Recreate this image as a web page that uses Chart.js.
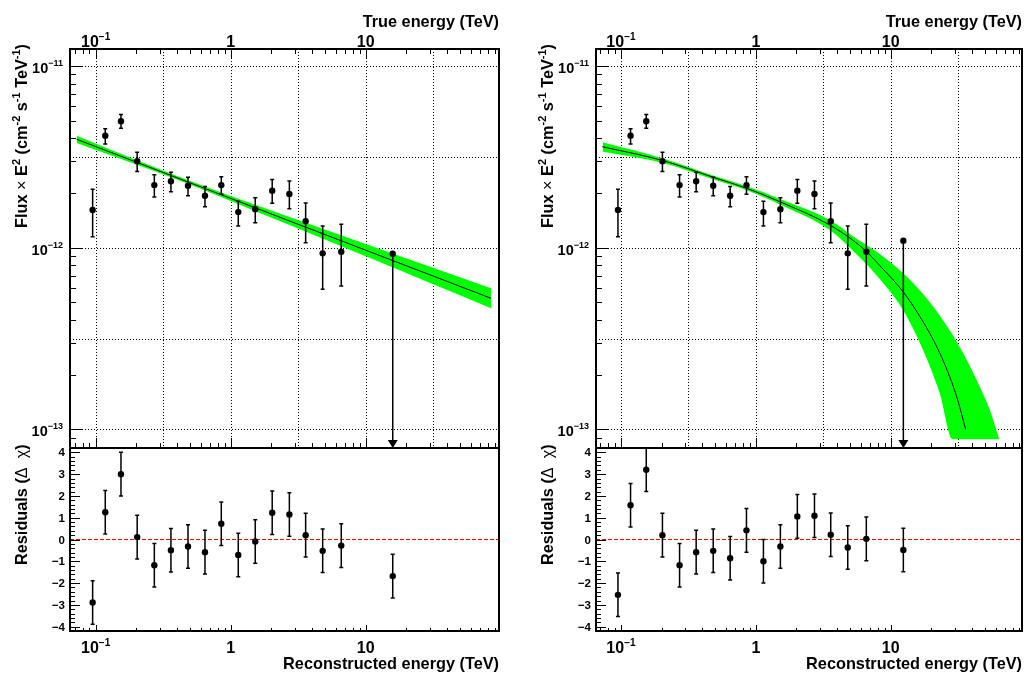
<!DOCTYPE html>
<html>
<head>
<meta charset="utf-8">
<title>Spectrum fits with residuals</title>
<script src="https://cdn.jsdelivr.net/npm/chart.js@4.4.1/dist/chart.umd.min.js"></script>
<style>
  html, body { margin: 0; padding: 0; background: #fff; }
  #wrap { position: relative; width: 1027px; height: 673px; overflow: hidden; background: #fff; }
  canvas { position: absolute; }
</style>
</head>
<body>
<div id="wrap">
  <canvas id="plTop" width="513" height="460" style="left:0;top:0"></canvas>
  <canvas id="plRes" width="513" height="233" style="left:0;top:440px"></canvas>
  <canvas id="ecTop" width="514" height="460" style="left:513px;top:0"></canvas>
  <canvas id="ecRes" width="514" height="233" style="left:513px;top:440px"></canvas>
</div>
<script>
// flux points (same bins in both fits)
const binEnergy = [0.0950, 0.1178, 0.1540, 0.2030, 0.2720, 0.3610, 0.4830, 0.6450, 0.8520, 1.138, 1.520, 2.030, 2.720, 3.590, 4.800, 6.590];
const binFlux   = [1.612e-12, 4.13e-12, 4.96e-12, 2.99e-12, 2.21e-12, 2.32e-12, 2.19e-12, 1.93e-12, 2.21e-12, 1.57e-12, 1.63e-12, 2.06e-12, 1.975e-12, 1.40e-12, 9.31e-13, 9.50e-13];
const binFluxHi = [2.10e-12, 4.52e-12, 5.40e-12, 3.35e-12, 2.52e-12, 2.60e-12, 2.44e-12, 2.17e-12, 2.46e-12, 1.80e-12, 1.88e-12, 2.37e-12, 2.33e-12, 1.76e-12, 1.316e-12, 1.345e-12];
const binFluxLo = [1.149e-12, 3.72e-12, 4.54e-12, 2.63e-12, 1.90e-12, 2.03e-12, 1.93e-12, 1.68e-12, 1.97e-12, 1.316e-12, 1.37e-12, 1.755e-12, 1.64e-12, 1.065e-12, 5.90e-13, 6.15e-13];

// left: power law
const plUlEnergy = [15.85];
const plUlFlux = [9.27e-13];
const plModelEnergy = [0.0723, 1, 84.7];
const plModelFlux = [3.95e-12, 1.867e-12, 5.27e-13];
const plBandEnergy = [0.0723, 0.2, 0.4, 1, 3, 10, 30, 84.7];
const plBandHi = [4.135e-12, 3.038e-12, 2.480e-12, 1.926e-12, 1.438e-12, 1.048e-12, 7.85e-13, 5.98e-13];
const plBandLo = [3.773e-12, 2.873e-12, 2.369e-12, 1.809e-12, 1.295e-12, 8.96e-13, 6.39e-13, 4.64e-13];
const plResEnergy = [0.0950, 0.1178, 0.1540, 0.2030, 0.2720, 0.3610, 0.4830, 0.6450, 0.8520, 1.138, 1.520, 2.030, 2.720, 3.590, 4.800, 6.590, 15.85];
const plResidual = [-2.89, 1.25, 3.0, 0.11, -1.18, -0.49, -0.32, -0.58, 0.72, -0.71, -0.09, 1.23, 1.15, 0.2, -0.52, -0.28, -1.68];
const plResErr = [1, 1, 1, 1, 1, 1, 1, 1, 1, 1, 1, 1, 1, 1, 1, 1, 1];

// right: curved spectrum with cut-off
const ecUlEnergy = [12.4];
const ecUlFlux = [1.093e-12];
const ecModelEnergy = [0.0727, 0.2057, 0.4828, 0.8534, 1.505, 3.533, 5.412, 6.419, 8.289, 12.34, 15.50, 19.45, 23.07, 27.35, 31.36, 35.93];
const ecModelFlux = [3.596e-12, 3.012e-12, 2.440e-12, 2.123e-12, 1.791e-12, 1.333e-12, 1.079e-12, 9.71e-13, 7.98e-13, 5.726e-13, 4.483e-13, 3.38e-13, 2.633e-13, 1.95e-13, 1.451e-13, 1.0e-13];
const ecBandEnergy = [0.0732, 0.2047, 0.4803, 0.8577, 1.505, 3.533, 5.412, 8.289, 12.34, 17.35, 23.07, 28.79, 35.33, 45.63, 54.12, 63.42];
const ecBandHi = [3.802e-12, 3.097e-12, 2.496e-12, 2.177e-12, 1.854e-12, 1.420e-12, 1.139e-12, 9.232e-13, 7.24e-13, 5.561e-13, 4.24e-13, 3.304e-13, 2.531e-13, 1.722e-13, 1.285e-13, 8.93e-14];
const ecBandLo = [3.374e-12, 2.925e-12, 2.382e-12, 2.069e-12, 1.729e-12, 1.251e-12, 9.40e-13, 6.726e-13, 4.54e-13, 2.735e-13, 1.580e-13, 8.82e-14, 8.82e-14, 8.82e-14, 8.82e-14, 8.82e-14];
const ecResEnergy = [0.0950, 0.1178, 0.1540, 0.2030, 0.2720, 0.3610, 0.4830, 0.6450, 0.8520, 1.138, 1.520, 2.030, 2.720, 3.590, 4.800, 6.590, 12.4];
const ecResidual = [-2.54, 1.57, 3.2, 0.2, -1.18, -0.58, -0.52, -0.86, 0.42, -1.0, -0.32, 1.06, 1.09, 0.22, -0.37, 0.03, -0.48];
const ecResErr = [1, 1, 1, 1, 1, 1, 1, 1, 1, 1, 1, 1, 1, 1, 1, 1, 1];

// axes
const plXRange = [0.06457, 97.05];
const ecXRange = [0.06531, 93.97];
const fluxRange = [7.90e-14, 1.240e-11];
const resRange = [-4.2, 4.2];
const energyTicks = [0.1, 1, 10];
const energyTickText = [['10', '\u22121'], ['1', ''], ['10', '']];
const fluxTicks = [1e-11, 1e-12, 1e-13];
const fluxTickText = [['10', '\u221211'], ['10', '\u221212'], ['10', '\u221213']];
const resTicks = [4, 3, 2, 1, 0, -1, -2, -3, -4];
const resTickText = ['4', '3', '2', '1', '0', '\u22121', '\u22122', '\u22123', '\u22124'];
const energyGrid = [0.1, 0.3162, 1, 3.162, 10, 31.62];
const fluxGrid = [1e-11, 3.162e-12, 1e-12, 3.162e-13, 1e-13];

const FAM = '"Liberation Sans", Arial, Helvetica, sans-serif';
const B = s => `bold ${s}px ${FAM}`;
const N = s => `${s}px ${FAM}`;

const trueTitle = [['True energy (TeV)', B(16.3), 0]];
const recoTitle = [['Reconstructed energy (TeV)', B(16.3), 0]];
const fluxTitle = [['Flux ', B(16.3), 0], ['\u00d7', N(16.3), 0], [' E', B(16.3), 0], ['2', B(11), -7],
  [' (cm', B(16.3), 0], ['-2', B(11), -7], [' s', B(16.3), 0], ['-1', B(11), -7],
  [' TeV', B(16.3), 0], ['-1', B(11), -7], [')', B(16.3), 0]];
const resTitle = [['Residuals (', B(16.3), 0], ['\u0394  \u03c7', N(16.3), 0], [')', B(16.3), 0]];

const pts = (xs, ys) => xs.map((v, i) => ({ x: v, y: ys[i] }));

function richText(ctx, segs, x, y, align) {
  let w = 0;
  segs.forEach(s => { ctx.font = s[1]; w += ctx.measureText(s[0]).width; });
  let cx = align === 'right' ? x - w : align === 'center' ? x - w / 2 : x;
  ctx.textAlign = 'left';
  ctx.textBaseline = 'alphabetic';
  segs.forEach(s => {
    ctx.font = s[1];
    ctx.fillText(s[0], cx, y + s[2]);
    cx += ctx.measureText(s[0]).width;
  });
}

function logTicks(min, max) {
  const out = [];
  for (let d = Math.floor(Math.log10(min)); d <= Math.ceil(Math.log10(max)); d++) {
    for (let m = 1; m <= 9; m++) {
      const v = m * Math.pow(10, d);
      if (v >= min && v <= max) out.push([v, m === 1]);
    }
  }
  return out;
}

function linTicks(min, max) {
  const out = [];
  for (let k = Math.ceil(min / 0.2 - 1e-6); k <= Math.floor(max / 0.2 + 1e-6); k++) {
    out.push([k * 0.2, k % 5 === 0]);
  }
  return out;
}

// ROOT-like frame, ticks, grid, error bars and labels
function rootPanel(cfg) {
  return {
    id: 'rootPanel',
    beforeDatasetsDraw(chart) {
      if (!cfg.grid) return;
      const { ctx, chartArea: a, scales: { x, y } } = chart;
      ctx.save();
      ctx.strokeStyle = '#000';
      ctx.lineWidth = 1;
      ctx.setLineDash([1, 2]);
      ctx.beginPath();
      energyGrid.forEach(v => {
        const px = Math.round(x.getPixelForValue(v)) + 0.5;
        ctx.moveTo(px, a.top); ctx.lineTo(px, a.bottom);
      });
      fluxGrid.forEach(v => {
        const py = Math.round(y.getPixelForValue(v)) + 0.5;
        ctx.moveTo(a.left, py); ctx.lineTo(a.right, py);
      });
      ctx.stroke();
      ctx.restore();
    },
    beforeDatasetDraw(chart, args) {
      const bars = cfg.bars[args.index];
      if (!bars) return;
      const { ctx, chartArea: a, scales: { x, y } } = chart;
      ctx.save();
      ctx.beginPath();
      ctx.rect(a.left, a.top, a.right - a.left, a.bottom - a.top);
      ctx.clip();
      ctx.strokeStyle = '#000';
      ctx.fillStyle = '#000';
      ctx.lineWidth = 1.5;
      bars.x.forEach((e, i) => {
        const px = x.getPixelForValue(e);
        if (bars.lo) {
          const y1 = y.getPixelForValue(bars.lo[i]);
          const y2 = y.getPixelForValue(bars.hi[i]);
          ctx.beginPath();
          ctx.moveTo(px, y1); ctx.lineTo(px, y2);
          ctx.moveTo(px - 2, y1); ctx.lineTo(px + 2, y1);
          ctx.moveTo(px - 2, y2); ctx.lineTo(px + 2, y2);
          ctx.stroke();
        }
        if (bars.ul) {
          const y0 = y.getPixelForValue(bars.ul[i]);
          const yb = y.getPixelForValue(y.min);
          ctx.beginPath();
          ctx.moveTo(px, y0); ctx.lineTo(px, yb - 6);
          ctx.stroke();
          ctx.beginPath();
          ctx.moveTo(px - 5, yb - 8); ctx.lineTo(px + 5, yb - 8); ctx.lineTo(px, yb);
          ctx.closePath();
          ctx.fill();
        }
      });
      ctx.restore();
    },
    afterDraw(chart) {
      const { ctx, chartArea: a, scales: { x, y } } = chart;
      ctx.save();
      ctx.strokeStyle = '#000';
      ctx.fillStyle = '#000';
      ctx.lineWidth = 1;
      ctx.beginPath();
      logTicks(x.min, x.max).forEach(([v, major]) => {
        const px = Math.round(x.getPixelForValue(v)) + 0.5;
        const lb = major ? cfg.tickBottom[0] : cfg.tickBottom[1];
        ctx.moveTo(px, a.bottom); ctx.lineTo(px, a.bottom - lb);
        if (cfg.tickTop) {
          const lt = major ? cfg.tickTop[0] : cfg.tickTop[1];
          ctx.moveTo(px, a.top); ctx.lineTo(px, a.top + lt);
        }
      });
      const yt = cfg.logY ? logTicks(y.min, y.max) : linTicks(y.min, y.max);
      yt.forEach(([v, major]) => {
        const py = Math.round(y.getPixelForValue(v)) + 0.5;
        const l = major ? cfg.tickLeft[0] : cfg.tickLeft[1];
        ctx.moveTo(a.left, py); ctx.lineTo(a.left + l, py);
      });
      ctx.stroke();
      ctx.lineWidth = 2;
      ctx.strokeRect(a.left, a.top, a.right - a.left, a.bottom - a.top);

      // x tick labels
      energyTicks.forEach((v, i) => {
        const px = x.getPixelForValue(v);
        const t = energyTickText[i];
        const segs = [[t[0], B(cfg.xLabelSize), 0]];
        if (t[1]) segs.push([t[1], B(cfg.xSupSize), -cfg.xSupRise]);
        richText(ctx, segs, px, cfg.xLabelBase === 'top' ? a.top - 2.5 : a.bottom + 22, 'center');
      });
      // y tick labels
      if (cfg.logY) {
        fluxTicks.forEach((v, i) => {
          const py = y.getPixelForValue(v);
          const t = fluxTickText[i];
          richText(ctx, [[t[0], B(14.5), 0], [t[1], B(9), -7]], a.left - 7, py + 7, 'right');
        });
      } else {
        resTicks.forEach((v, i) => {
          const py = y.getPixelForValue(v);
          richText(ctx, [[resTickText[i], B(11.5), 0]], a.left - 5, py + 4, 'right');
        });
      }
      // axis titles
      richText(ctx, cfg.xTitle, a.right, cfg.xTitleBase, 'right');
      ctx.translate(a.left - 43, cfg.yTitleEnd);
      ctx.rotate(-Math.PI / 2);
      richText(ctx, cfg.yTitle, 0, 0, 'left');
      ctx.restore();
    }
  };
}

function commonOptions(pad, xr, yType, yr) {
  return {
    responsive: false,
    animation: false,
    devicePixelRatio: 1,
    events: [],
    layout: { padding: pad },
    plugins: { legend: { display: false }, tooltip: { enabled: false }, title: { display: false } },
    elements: { line: { tension: 0 } },
    scales: {
      x: { type: 'logarithmic', min: xr[0], max: xr[1], display: false, bounds: 'data' },
      y: { type: yType, min: yr[0], max: yr[1], display: false, bounds: 'data' }
    }
  };
}

function spectrumChart(id, pad, xr, modelE, modelF, bandE, bandHi, bandLo, ulE, ulF) {
  const marker = { pointRadius: 3.2, pointBorderWidth: 0, pointBackgroundColor: '#000', pointBorderColor: '#000', showLine: false };
  const smooth = { cubicInterpolationMode: 'monotone' };
  return new Chart(document.getElementById(id), {
    type: 'scatter',
    data: {
      datasets: [
        Object.assign({ data: pts(binEnergy, binFlux), order: 0 }, marker),
        Object.assign({ data: pts(ulE, ulF), order: 1 }, marker),
        Object.assign({ type: 'line', data: pts(modelE, modelF), borderColor: '#000', borderWidth: 1, pointRadius: 0, fill: false, order: 2 }, smooth),
        Object.assign({ type: 'line', data: pts(bandE, bandHi), borderWidth: 0, borderColor: 'rgba(0,0,0,0)', pointRadius: 0, backgroundColor: '#00ff00', fill: '+1', order: 3 }, smooth),
        Object.assign({ type: 'line', data: pts(bandE, bandLo), borderWidth: 0, borderColor: 'rgba(0,0,0,0)', pointRadius: 0, fill: false, order: 4 }, smooth)
      ]
    },
    options: commonOptions(pad, xr, 'logarithmic', fluxRange),
    plugins: [rootPanel({
      grid: true,
      logY: true,
      bars: { 0: { x: binEnergy, lo: binFluxLo, hi: binFluxHi }, 1: { x: ulE, ul: ulF } },
      tickBottom: [10, 5], tickTop: [10, 5], tickLeft: [12, 6],
      xLabelBase: 'top', xLabelSize: 16, xSupSize: 10, xSupRise: 7,
      xTitle: trueTitle, xTitleBase: 26.5,
      yTitle: fluxTitle, yTitleEnd: 228
    })]
  });
}

function residualChart(id, pad, xr, resE, res, err) {
  return new Chart(document.getElementById(id), {
    type: 'scatter',
    data: {
      datasets: [
        { data: pts(resE, res), pointRadius: 3.2, pointBorderWidth: 0, pointBackgroundColor: '#000', pointBorderColor: '#000', order: 0 },
        { type: 'line', data: pts(xr, [0, 0]), borderColor: '#ff0000', borderWidth: 1, borderDash: [4, 2], pointRadius: 0, fill: false, order: 1 }
      ]
    },
    options: commonOptions(pad, xr, 'linear', resRange),
    plugins: [rootPanel({
      grid: false,
      logY: false,
      bars: { 0: { x: resE, lo: res.map((r, i) => r - err[i]), hi: res.map((r, i) => r + err[i]) } },
      tickBottom: [6, 3], tickLeft: [10, 5],
      xLabelBase: 'bottom', xLabelSize: 16, xSupSize: 10, xSupRise: 7,
      xTitle: recoTitle, xTitleBase: 229,
      yTitle: resTitle, yTitleEnd: 125
    })]
  });
}

spectrumChart('plTop', { left: 70, right: 14, top: 49, bottom: 12 }, plXRange,
  plModelEnergy, plModelFlux, plBandEnergy, plBandHi, plBandLo, plUlEnergy, plUlFlux);
residualChart('plRes', { left: 70, right: 14, top: 8, bottom: 42 }, plXRange, plResEnergy, plResidual, plResErr);
spectrumChart('ecTop', { left: 83, right: 5, top: 49, bottom: 12 }, ecXRange,
  ecModelEnergy, ecModelFlux, ecBandEnergy, ecBandHi, ecBandLo, ecUlEnergy, ecUlFlux);
residualChart('ecRes', { left: 83, right: 5, top: 8, bottom: 42 }, ecXRange, ecResEnergy, ecResidual, ecResErr);
</script>
</body>
</html>
